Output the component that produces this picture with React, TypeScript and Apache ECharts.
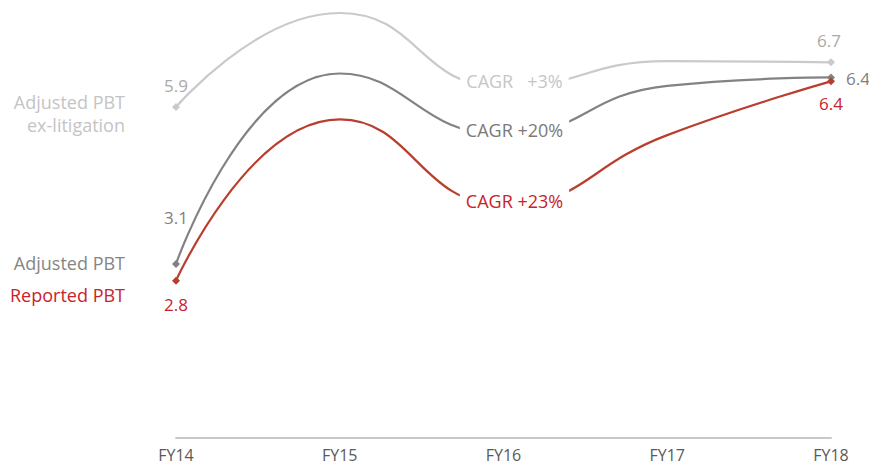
import React, { useEffect, useRef } from "react";
import * as echarts from "echarts";

const categories = ["FY14", "FY15", "FY16", "FY17", "FY18"];
const exLitigation = [5.9, 7.58, 6.25, 6.72, 6.7];
const adjusted = [3.1, 6.5, 5.4, 6.28, 6.43];
const reported = [2.8, 5.68, 4.15, 5.4, 6.36];
const cagrLabels = ["CAGR   +3%", "CAGR +20%", "CAGR +23%"];
const seriesNames = ["Adjusted PBT ex-litigation", "Adjusted PBT", "Reported PBT"];

const FONT = "'Open Sans', 'Noto Sans', sans-serif";

type Cfg = {
  values: number[];
  lineColor: string;
  valueColor: string;
  cagrColor: string;
  cagr: string;
  firstOffset: [number, number];
  lastOffset: [number, number];
  cagrOffset: [number, number];
};

function buildData(c: Cfg) {
  return c.values.map((v, i) => {
    const isEnd = i === 0 || i === c.values.length - 1;
    const item: any = { value: v, symbolSize: isEnd ? 8 : 0 };
    if (isEnd) {
      item.label = {
        show: true,
        position: "inside",
        offset: i === 0 ? c.firstOffset : c.lastOffset,
        formatter: (p: any) => Number(p.value).toFixed(1),
        color: c.valueColor,
        fontSize: 17,
        fontFamily: FONT,
      };
    } else if (i === 2) {
      item.label = {
        show: true,
        position: "inside",
        offset: c.cagrOffset,
        formatter: c.cagr,
        color: c.cagrColor,
        fontSize: 18,
        fontFamily: FONT,
        backgroundColor: "#ffffff",
        padding: [5, 6, 5, 6],
      };
    }
    return item;
  });
}

function nameText(text: string, y: number, color: string) {
  return {
    type: "text",
    x: 125,
    y,
    style: {
      text,
      align: "right",
      verticalAlign: "middle",
      fill: color,
      font: `18px ${FONT}`,
    },
  };
}

export default function App() {
  const ref = useRef<HTMLDivElement>(null);
  useEffect(() => {
    if (!ref.current) return;
    const chart = echarts.init(ref.current, undefined, { renderer: "svg" });
    const cfgs: Cfg[] = [
      {
        values: exLitigation,
        lineColor: "#cacaca",
        valueColor: "#a9a9a9",
        cagrColor: "#c6c6c6",
        cagr: cagrLabels[0],
        firstOffset: [0, -22],
        lastOffset: [-2, -22],
        cagrOffset: [11, -7],
      },
      {
        values: adjusted,
        lineColor: "#828282",
        valueColor: "#808080",
        cagrColor: "#7a7a7a",
        cagr: cagrLabels[1],
        firstOffset: [0, -46],
        lastOffset: [27, 1],
        cagrOffset: [11, -5],
      },
      {
        values: reported,
        lineColor: "#b83e2d",
        valueColor: "#c8232a",
        cagrColor: "#c8232a",
        cagr: cagrLabels[2],
        firstOffset: [0, 24],
        lastOffset: [0, 22],
        cagrOffset: [11, -4],
      },
    ];
    chart.setOption({
      animation: false,
      grid: { left: 176, right: 38, top: 17.5, bottom: 33.5 },
      xAxis: {
        type: "category",
        data: categories,
        boundaryGap: false,
        axisLine: { lineStyle: { color: "#c8c8c8", width: 2 } },
        axisTick: { show: false },
        axisLabel: {
          color: "#595959",
          fontSize: 16,
          fontFamily: FONT,
          margin: 9,
        },
      },
      yAxis: {
        type: "value",
        min: 0,
        max: 7.5,
        show: false,
        splitLine: { show: false },
      },
      series: cfgs.map((c, idx) => ({
        type: "line",
        name: seriesNames[idx],
        smooth: true,
        clip: false,
        symbol: "diamond",
        data: buildData(c),
        lineStyle: { color: c.lineColor, width: 2.2 },
        itemStyle: { color: c.lineColor },
        z: 2 + idx,
      })),
      graphic: [
        nameText("Adjusted PBT", 102, "#c4c4c4"),
        nameText("ex-litigation", 125, "#c4c4c4"),
        nameText("Adjusted PBT", 263, "#858585"),
        nameText("Reported PBT", 295, "#c8232a"),
      ],
    });
    return () => chart.dispose();
  }, []);
  return (
    <div
      ref={ref}
      style={{ position: "fixed", left: 0, top: 0, width: 869, height: 471, background: "#fff" }}
    />
  );
}
